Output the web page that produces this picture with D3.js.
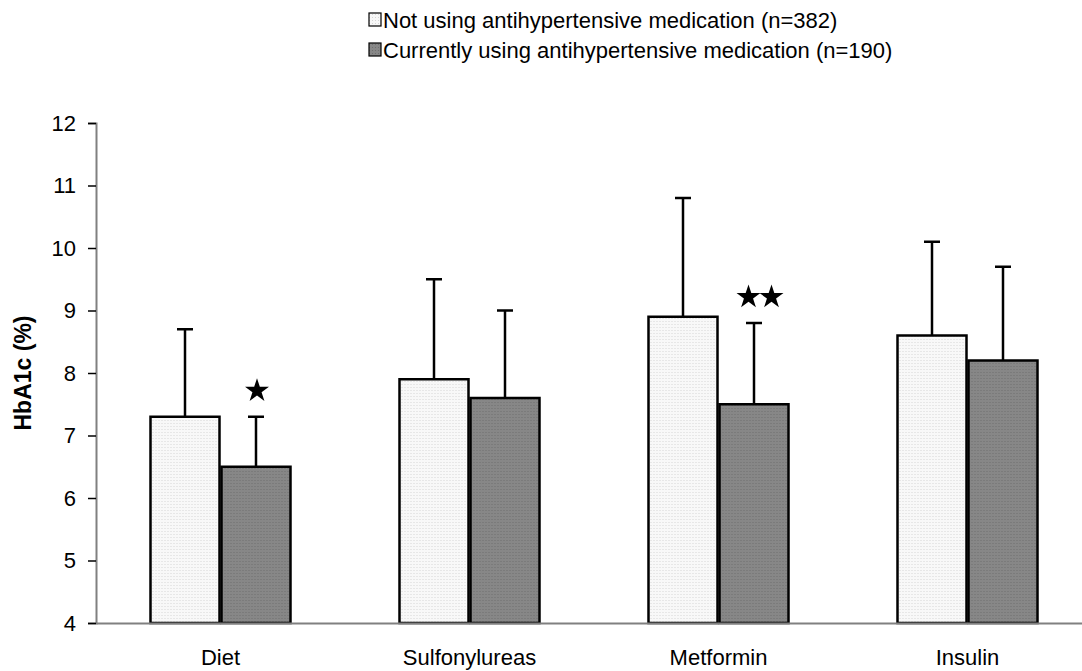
<!DOCTYPE html>
<html><head><meta charset="utf-8">
<script src="https://cdn.jsdelivr.net/npm/d3@7"></script>
<style>body{margin:0;background:#fff;} svg{display:block;font-family:"Liberation Sans",Arial,sans-serif;}</style>
</head><body><svg id="c" width="1082" height="671"></svg>
<script>
const categories = ["Diet","Sulfonylureas","Metformin","Insulin"];
const seriesNames = ["Not using antihypertensive medication (n=382)","Currently using antihypertensive medication (n=190)"];
const notUsing = [7.3, 7.9, 8.9, 8.6];
const notUsingErr = [1.4, 1.6, 1.9, 1.5];
const using = [6.5, 7.6, 7.5, 8.2];
const usingErr = [0.8, 1.4, 1.3, 1.5];
const significance = [1, 0, 2, 0]; // number of stars above "using" bar
const yTicks = [4,5,6,7,8,9,10,11,12];

const svg = d3.select("#c");
const defs = svg.append("defs");
function pat(id, bg, dot){
  const p = defs.append("pattern").attr("id",id).attr("width",3).attr("height",3).attr("patternUnits","userSpaceOnUse");
  p.append("rect").attr("width",3).attr("height",3).attr("fill",bg);
  p.append("rect").attr("width",1).attr("height",1).attr("fill",dot);
}
pat("pl","#f8f8f8","#d6d6d6");
pat("pd","#878787","#6e6e6e");
const fills = ["url(#pl)","url(#pd)"];

const mLeft = 96, mTop = 123, mBottom = 623, bandW = 249;
const x = d3.scaleBand().domain(categories).range([mLeft, mLeft + bandW*categories.length]).paddingInner(0).paddingOuter(0);
const x1 = d3.scaleBand().domain([0,1]).range([0,142]);
const y = d3.scaleLinear().domain([4,12]).range([mBottom, mTop]);

const data = categories.map((c,i)=>({c, vals:[{s:0,v:notUsing[i],e:notUsingErr[i]},{s:1,v:using[i],e:usingErr[i]}]}));
const g = svg.append("g");
const grp = g.selectAll("g.cat").data(data).join("g")
  .attr("transform", d=>`translate(${x(d.c)+x.bandwidth()/2-71},0)`);
// error bars
grp.selectAll("line.err").data(d=>d.vals).join("line")
  .attr("x1",d=>x1(d.s)+x1.bandwidth()/2).attr("x2",d=>x1(d.s)+x1.bandwidth()/2)
  .attr("y1",d=>y(d.v)).attr("y2",d=>y(d.v+d.e)).attr("stroke","#000").attr("stroke-width",2.5);
grp.selectAll("line.cap").data(d=>d.vals).join("line")
  .attr("x1",d=>x1(d.s)+x1.bandwidth()/2-8).attr("x2",d=>x1(d.s)+x1.bandwidth()/2+8)
  .attr("y1",d=>y(d.v+d.e)).attr("y2",d=>y(d.v+d.e)).attr("stroke","#000").attr("stroke-width",2.5);
grp.selectAll("rect").data(d=>d.vals).join("rect")
  .attr("x",d=>x1(d.s)+1).attr("width",x1.bandwidth()-2)
  .attr("y",d=>y(d.v)).attr("height",d=>y(4)-y(d.v))
  .attr("fill",d=>fills[d.s]).attr("stroke","#000").attr("stroke-width",2.5);

// significance stars
const starPath = d3.symbol().type(d3.symbolStar).size(178)();
const stars = [];
categories.forEach((c,i)=>{
  const n = significance[i];
  const cx = x(c)+x.bandwidth()/2+35.5 + (n>1?6:1);
  for(let k=0;k<n;k++) stars.push({x: cx + (k-(n-1)/2)*23, y: y(using[i]+usingErr[i]) - 26});
});
g.selectAll("path.star").data(stars).join("path").attr("class","star")
  .attr("d",starPath).attr("transform",d=>`translate(${d.x},${d.y})`).attr("fill","#000");

// y axis
const ya = svg.append("g").attr("transform",`translate(${mLeft},0)`)
  .call(d3.axisLeft(y).tickValues(yTicks).tickSize(8).tickPadding(12).tickFormat(d3.format("d")));
ya.select(".domain").attr("stroke","#808080").attr("stroke-width",2);
ya.selectAll(".tick line").attr("stroke","#000").attr("stroke-width",1.5);
ya.selectAll(".tick text").attr("font-size",22).attr("fill","#000").attr("font-family","Liberation Sans, Arial, sans-serif");

// x axis
const xa = svg.append("g").attr("transform",`translate(0,${mBottom})`)
  .call(d3.axisBottom(x).tickSize(0).tickPadding(26));
xa.select(".domain").attr("stroke","#808080").attr("stroke-width",2);
xa.selectAll(".tick text").attr("font-size",22).attr("fill","#000").attr("font-family","Liberation Sans, Arial, sans-serif");

// y title
svg.append("text").attr("transform","translate(31,373) rotate(-90)").attr("text-anchor","middle")
  .attr("font-size",23).attr("font-weight","bold").text("HbA1c (%)");

// legend
const lg = svg.append("g").selectAll("g").data(seriesNames).join("g")
  .attr("transform",(d,i)=>`translate(369,${20+i*30})`);
lg.append("rect").attr("x",0).attr("y",-7).attr("width",12).attr("height",13)
  .attr("fill",(d,i)=>fills[i]).attr("stroke","#000").attr("stroke-width",1.2);
lg.append("text").attr("x",14).attr("y",7.5).attr("font-size",22).attr("fill","#000").text(d=>d);
</script></body></html>
